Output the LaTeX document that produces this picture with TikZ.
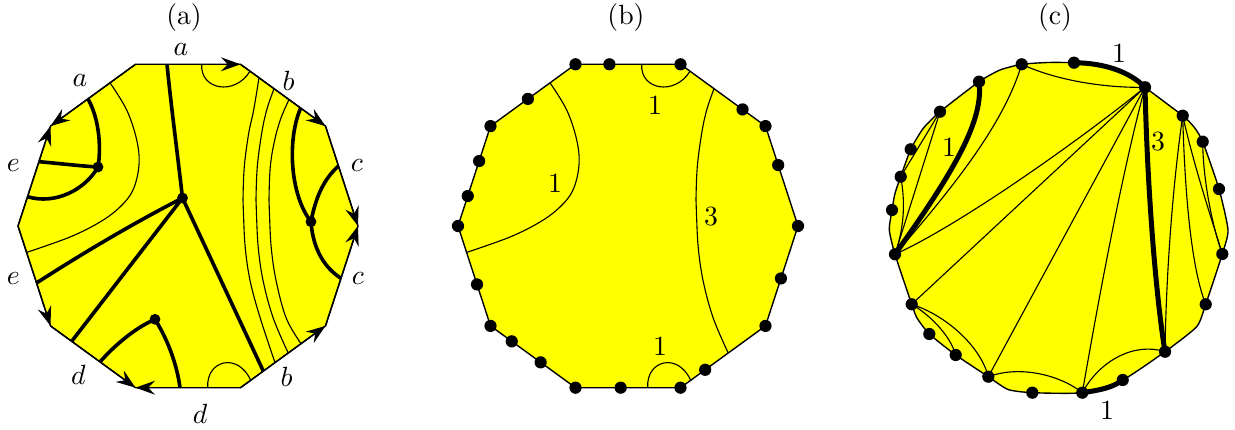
\documentclass[tikz,border=0pt]{standalone}
\usetikzlibrary{arrows.meta,calc}
\definecolor{polyyellow}{RGB}{255,255,0}
\begin{document}
\begin{tikzpicture}[x=0.36pt,y=-0.36pt,
  thinline/.style={line width=0.4pt},
  thickline/.style={line width=1.3pt},
  heavyline/.style={line width=1.8pt},
  outline/.style={line width=0.5pt, fill=polyyellow, line join=miter},
  dota/.style={circle, fill=black, draw=none, inner sep=0pt, minimum size=3.9pt},
  dotb/.style={circle, fill=black, draw=none, inner sep=0pt, minimum size=4.4pt},
  edgearrow/.style={-{Stealth[length=7pt,width=5pt,inset=2.4pt]}, line width=0.5pt},
  lab/.style={inner sep=0pt},
]
\useasboundingbox (0,0) rectangle (1235,430);

\node[lab] (ta) at (184,18) {(a)};
\node[lab] (tb) at (626,18) {(b)};
\node[lab] (tc) at (1055,18) {(c)};

% ================= (a)
\coordinate (A0) at (358,226);
\coordinate (A1) at (325.5,126.1);
\coordinate (A2) at (240.5,64.3);
\coordinate (A3) at (135.5,64.3);
\coordinate (A4) at (50.5,126.1);
\coordinate (A5) at (18,226);
\coordinate (A6) at (50.5,325.9);
\coordinate (A7) at (135.5,387.7);
\coordinate (A8) at (240.5,387.7);
\coordinate (A9) at (325.5,325.9);
\draw[outline] (A0) -- (A1) -- (A2) -- (A3) -- (A4) -- (A5) -- (A6) -- (A7) -- (A8) -- (A9) -- cycle;

\draw[thinline] (201.7,64.3) .. controls (200,90) and (235,96) .. (250,71.2);
\draw[thinline] (207.7,387.7) .. controls (206,360) and (238,352) .. (250.7,380.3);
\draw[thinline] plot[smooth,tension=0.6] coordinates {(110,82.8) (126.7,110) (136.7,140) (139,165) (133,190) (120,207) (100,222) (70,237) (27,252.3)};
\draw[thinline] plot[smooth,tension=0.6] coordinates {(259,77.7) (253.7,110) (248.7,133.3) (244.3,166.7) (243,200) (243.5,215) (245.3,248.3) (250.3,281.7) (260.3,318.3) (275,362.6)};
\draw[thinline] plot[smooth,tension=0.6] coordinates {(274,88.7) (266.7,110) (261.7,133.3) (257.3,166.7) (256,200) (256.5,215) (258.3,248.3) (263.3,281.7) (273.3,318.3) (288.3,353.2)};
\draw[thinline] plot[smooth,tension=0.6] coordinates {(289,99.6) (281,118) (274.7,140) (270.3,166.7) (269,200) (269.5,215) (271.3,248.3) (276.3,281.7) (286.3,318.3) (301,343.7)};

\coordinate (H) at (182.5,198);
\coordinate (P) at (98,167);
\coordinate (Q) at (155,319.3);
\coordinate (R) at (311,221.7);
\draw[thickline] (H) .. controls (177,150) and (171,105) .. (167,64.3);
\draw[thickline] (H) .. controls (130,225) and (80,255) .. (36.5,283);
\draw[thickline] (H) -- (71.7,341.3);
\draw[thickline] (H) -- (263.3,371.1);
\draw[thickline] (P) .. controls (101,150) and (100,120) .. (88,99);
\draw[thickline] (P) .. controls (80,166) and (55,163) .. (38.9,161.7);
\draw[thickline] (P) .. controls (85,190) and (55,205) .. (27.5,196.7);
\draw[thickline] (Q) .. controls (135,328) and (115,345) .. (100,361.9);
\draw[thickline] (Q) .. controls (168,340) and (177,365) .. (180,387.7);
\draw[thickline] (R) .. controls (290,195) and (287,140) .. (300.5,108.5);
\draw[thickline] (R) .. controls (316,195) and (325,178) .. (338.5,166);
\draw[thickline] (R) .. controls (313,250) and (325,268) .. (341,278.3);

\draw[edgearrow] (A3) -- (A2);
\draw[edgearrow] (A3) -- (A4);
\draw[edgearrow] (A5) -- (A4);
\draw[edgearrow] (A2) -- (A1);
\draw[edgearrow] (A1) -- (A0);
\draw[edgearrow] (A9) -- (A0);
\draw[edgearrow] (A5) -- (A6);
\draw[edgearrow] (A6) -- (A7);
\draw[edgearrow] (A8) -- (A7);
\draw[edgearrow] (A8) -- (A9);

\node[dota] (dH) at (H) {};
\node[dota] (dP) at (P) {};
\node[dota] (dQ) at (Q) {};
\node[dota] (dR) at (R) {};

\node[lab] (la1) at (181,50) {$a$};
\node[lab] (la2) at (80,81) {$a$};
\node[lab] (lb1) at (288.5,81) {$b$};
\node[lab] (le1) at (13.3,166) {$e$};
\node[lab] (lc1) at (357,166) {$c$};
\node[lab] (le2) at (13.3,278.3) {$e$};
\node[lab] (lc2) at (358,278.3) {$c$};
\node[lab] (ld1) at (78.3,375) {$d$};
\node[lab] (lb2) at (286.7,376.7) {$b$};
\node[lab] (ld2) at (200,414) {$d$};

% ================= (b)
\coordinate (B0) at (798,226);
\coordinate (B1) at (765.5,126.1);
\coordinate (B2) at (680.5,64.3);
\coordinate (B3) at (575.5,64.3);
\coordinate (B4) at (490.5,126.1);
\coordinate (B5) at (458,226);
\coordinate (B6) at (490.5,325.9);
\coordinate (B7) at (575.5,387.7);
\coordinate (B8) at (680.5,387.7);
\coordinate (B9) at (765.5,325.9);
\draw[outline] (B0) -- (B1) -- (B2) -- (B3) -- (B4) -- (B5) -- (B6) -- (B7) -- (B8) -- (B9) -- cycle;

\draw[thinline] (641.7,64.3) .. controls (640,90) and (675,96) .. (690,71.2);
\draw[thinline] (647.7,387.7) .. controls (646,360) and (678,352) .. (690.7,380.3);
\draw[thinline] plot[smooth,tension=0.6] coordinates {(550,82.8) (566.7,110) (576.7,140) (579,165) (573,190) (560,207) (540,222) (510,237) (467,252.3)};
\draw[thinline] plot[smooth,tension=0.6] coordinates {(714,88.7) (706.7,110) (701.7,133.3) (697.3,166.7) (696,200) (696.5,215) (698.3,248.3) (703.3,281.7) (713.3,318.3) (728.3,353.2)};

\node[lab] (nb1) at (655,105) {1};
\node[lab] (nb2) at (555,183) {1};
\node[lab] (nb3) at (711,217) {3};
\node[lab] (nb4) at (660,346) {1};

\foreach \v in {0,...,9} { \node[dotb] (dB\v) at (B\v) {}; }
\node[dotb] (eb1) at ($(B2)!0.677!(B3)$) {};
\node[dotb] (eb2) at ($(B3)!0.56!(B4)$) {};
\node[dotb] (eb3) at ($(B4)!0.35!(B5)$) {};
\node[dotb] (eb4) at ($(B4)!0.70!(B5)$) {};
\node[dotb] (eb5) at ($(B1)!0.27!(B2)$) {};
\node[dotb] (eb6) at ($(B0)!0.61!(B1)$) {};
\node[dotb] (eb7) at ($(B5)!0.585!(B6)$) {};
\node[dotb] (eb8) at ($(B9)!0.475!(B0)$) {};
\node[dotb] (eb9) at ($(B6)!0.25!(B7)$) {};
\node[dotb] (eb10) at ($(B6)!0.59!(B7)$) {};
\node[dotb] (eb11) at ($(B7)!0.43!(B8)$) {};
\node[dotb] (eb12) at ($(B8)!0.29!(B9)$) {};

% ================= (c)
\coordinate (c1) at (1021.7,64.3);
\coordinate (c2) at (1074,62.7);
\coordinate (c3) at (1145,87.3);
\coordinate (c4) at (1182.7,115.7);
\coordinate (c5) at (1202.7,141.7);
\coordinate (c6) at (1219,189);
\coordinate (c7) at (1222.3,254);
\coordinate (c8) at (1205.7,304.3);
\coordinate (c9) at (1165,351.7);
\coordinate (c10) at (1122.7,380);
\coordinate (c11) at (1082.3,392.7);
\coordinate (c12) at (1032.3,392.7);
\coordinate (c13) at (988.3,376.7);
\coordinate (c14) at (955.7,355);
\coordinate (c15) at (929.3,334);
\coordinate (c16) at (911.7,304.3);
\coordinate (c17) at (895,254.3);
\coordinate (c18) at (892,210);
\coordinate (c19) at (900.7,176.7);
\coordinate (c20) at (910.7,149.3);
\coordinate (c21) at (940,111.7);
\coordinate (c22) at (979,81.7);

\draw[outline] plot[smooth cycle, tension=0.35] coordinates {
 (c1) (1048,62.5) (c2) (1103.3,65) (1130,75) (c3) (c4) (1194,127) (c5) (c6) (1228,230) (c7) (c8)
 (1196.7,326.7) (c9) (c10) (c11) (c12) (1008,389.5) (c13) (c14) (c15) (917,318) (c16) (c17)
 (889.3,230) (c18) (895,193.3) (c19) (c20) (923.3,128.3) (c21) (c22) (1000,70)};

% thin chords
\draw[thinline] (c1) .. controls (1060,82) and (1110,88) .. (c3);
\draw[thinline] (c17) .. controls (960,225) and (1080,140) .. (c3);
\draw[thinline] (c16) -- (c3);
\draw[thinline] (c13) -- (c3);
\draw[thinline] (c11) .. controls (1095,320) and (1120,180) .. (c3);
\draw[thinline] (c17) -- (c21);
\draw[thinline] (c17) .. controls (905,225) and (905,200) .. (c19);
\draw[thinline] (c21) -- (c19);
\draw[thinline] (c1) .. controls (1005,120) and (960,180) .. (c17);
\draw[thinline] (c16) .. controls (945,315) and (980,345) .. (c13);
\draw[thinline] (c16) .. controls (930,315) and (950,335) .. (c14);
\draw[thinline] (c13) .. controls (1020,365) and (1060,375) .. (c11);
\draw[thinline] (c11) .. controls (1100,360) and (1135,342) .. (c9);
\draw[thinline] (c4) .. controls (1172,190) and (1166,280) .. (c9);
\draw[thinline] (c4) .. controls (1185,200) and (1192,270) .. (c8);
\draw[thinline] (c4) .. controls (1195,170) and (1212,220) .. (c7);
\draw[thinline] (c5) .. controls (1203,180) and (1212,225) .. (c7);

% thick chords
\draw[heavyline] (c2) .. controls (1105,63) and (1130,72) .. (c3);
\draw[heavyline] (c22) .. controls (984,120) and (955,170) .. (c17);
\draw[heavyline] (c3) .. controls (1147,180) and (1155,290) .. (c9);
\draw[heavyline] (c11) .. controls (1100,390) and (1112,388) .. (c10);

\foreach \v in {1,...,22} { \node[dotb] (dc\v) at (c\v) {}; }

\node[lab] (nc1) at (1119,53) {1};
\node[lab] (nc2) at (949,147) {1};
\node[lab] (nc3) at (1158,142) {3};
\node[lab] (nc4) at (1107,410) {1};
\end{tikzpicture}
\end{document}
